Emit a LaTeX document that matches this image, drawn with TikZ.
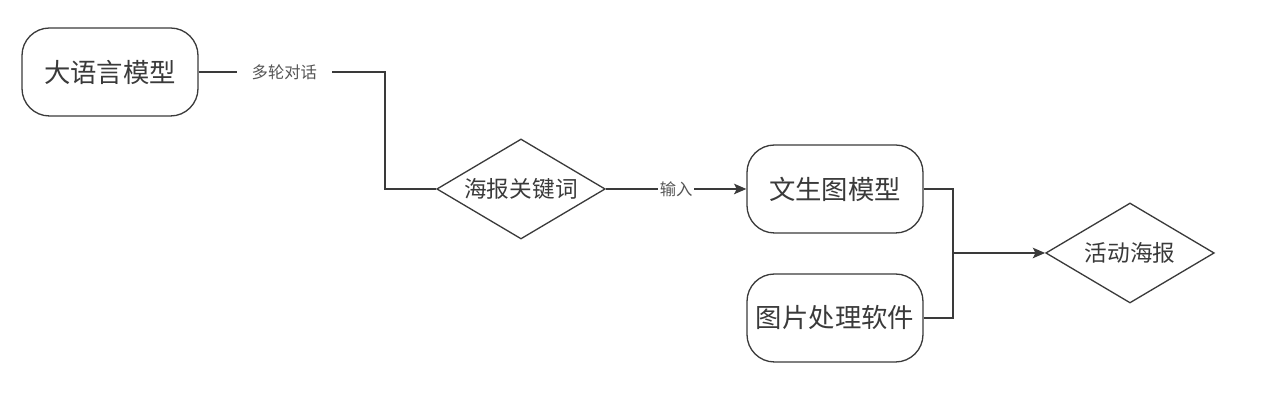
\documentclass[tikz,border=0pt]{standalone}
\usepackage{fontspec}
\newfontfamily\cjk{Noto Sans CJK SC}
\usetikzlibrary{shapes.geometric,arrows.meta}
\definecolor{linegray}{HTML}{3A3A3A}
\definecolor{labelgray}{HTML}{555555}

\begin{document}
\begin{tikzpicture}[
    model/.style={draw=linegray, line width=0.75pt, rectangle, rounded corners=0.55cm, minimum width=3.52cm, minimum height=1.76cm, align=center, text=linegray, font=\cjk\fontsize{15pt}{16pt}\selectfont},
    decision/.style={draw=linegray, line width=0.75pt, diamond, aspect=1.7, inner sep=0pt, minimum width=3.37cm, minimum height=2cm, align=center, text=linegray, font=\cjk\fontsize{12.9pt}{14pt}\selectfont},
    link/.style={draw=linegray, line width=0.75pt},
    tag/.style={fill=white, text=labelgray, font=\cjk\fontsize{9.3pt}{10pt}\selectfont}
]
    \useasboundingbox (0,0) rectangle (25.3,8.24);

    % Dialogue stage
    \node[model] (llm) at (2.2,6.8) {大语言模型};
    \node[decision] (keyword) at (10.42,4.46) {海报关键词};
    \coordinate (bend) at (7.7,6.8);

    % Generation stage
    \node[model] (t2i) at (16.7,4.46) {文生图模型};
    \node[model] (imgsw) at (16.7,1.88) {图片处理软件};
    \coordinate (join) at (19.06,3.18);

    % Output
    \node[decision] (poster) at (22.6,3.18) {活动海报};

    % Connections
    \draw[link] (llm) -- node[tag, pos=0.46, inner xsep=0.3cm] {多轮对话} (bend) |- (keyword);
    \draw[link, -{Stealth[length=7pt, width=6pt, inset=1.5pt]}] (keyword) -- node[tag, inner sep=1pt] {输入} (t2i);
    \draw[link] (t2i) -| (join);
    \draw[link] (imgsw) -| (join);
    \draw[link, -{Stealth[length=7pt, width=6pt, inset=1.5pt]}] (join) -- (poster);

\end{tikzpicture}
\end{document}
